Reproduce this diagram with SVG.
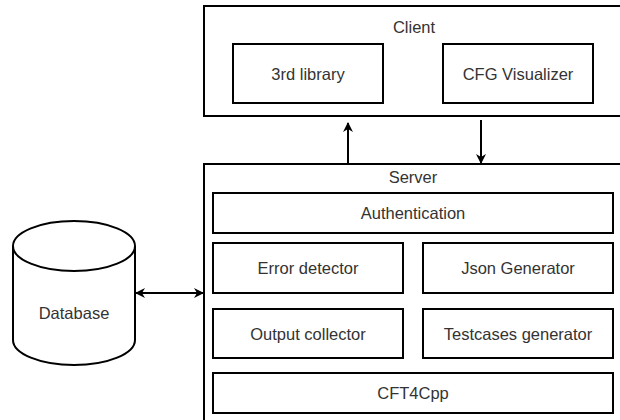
<svg xmlns="http://www.w3.org/2000/svg" width="620" height="420" viewBox="0 0 620 420">
<style>
.box{fill:#fff;stroke:#000;stroke-width:2}
.t{font-family:"Liberation Sans",Arial,sans-serif;font-size:16.5px;fill:#333;text-anchor:middle;dominant-baseline:central}
.ln{fill:none;stroke:#000;stroke-width:2}
</style>
<defs>
<marker id="ah" viewBox="0 0 10 10" refX="9" refY="5" markerWidth="5" markerHeight="5" orient="auto-start-reverse" markerUnits="strokeWidth">
<path d="M0,0 L10,5 L0,10 L3,5 z" fill="#000"/>
</marker>
</defs>
<rect width="620" height="420" fill="#fff"/>
<g id="client">
<rect class="box" x="204" y="6" width="420" height="110"/>
<text class="t" x="414" y="27">Client</text>
</g>
<g id="lib3rd">
<rect class="box" x="233" y="44" width="150" height="59"/>
<text class="t" x="308" y="73.5">3rd library</text>
</g>
<g id="cfgvis">
<rect class="box" x="443" y="44" width="150" height="59"/>
<text class="t" x="518" y="73.5">CFG Visualizer</text>
</g>
<g id="server">
<rect class="box" x="204" y="164" width="420" height="262"/>
<text class="t" x="413" y="177">Server</text>
</g>
<g id="auth">
<rect class="box" x="213" y="193" width="400" height="40"/>
<text class="t" x="413" y="213">Authentication</text>
</g>
<g id="errdet">
<rect class="box" x="213" y="243" width="190" height="50"/>
<text class="t" x="308" y="268">Error detector</text>
</g>
<g id="jsongen">
<rect class="box" x="423" y="243" width="190" height="50"/>
<text class="t" x="518" y="268">Json Generator</text>
</g>
<g id="outcol">
<rect class="box" x="213" y="309" width="190" height="49"/>
<text class="t" x="308" y="333.5">Output collector</text>
</g>
<g id="testgen">
<rect class="box" x="423" y="309" width="190" height="49"/>
<text class="t" x="518" y="333.5">Testcases generator</text>
</g>
<g id="cft4cpp">
<rect class="box" x="213" y="373" width="400" height="40"/>
<text class="t" x="413" y="393">CFT4Cpp</text>
</g>
<g id="database">
<path class="box" d="M13,246 A61,25 0 0 1 135,246 L135,340 A61,25 0 0 1 13,340 Z"/>
<path class="ln" d="M13,246 A61,25 0 0 0 135,246"/>
<text class="t" x="74" y="313">Database</text>
</g>
<g id="connectors">
<line class="ln" x1="348" y1="164" x2="348" y2="123" marker-end="url(#ah)"/>
<line class="ln" x1="481" y1="120" x2="481" y2="163" marker-end="url(#ah)"/>
<line class="ln" x1="136" y1="293" x2="203" y2="293" marker-start="url(#ah)" marker-end="url(#ah)"/>
</g>
</svg>
